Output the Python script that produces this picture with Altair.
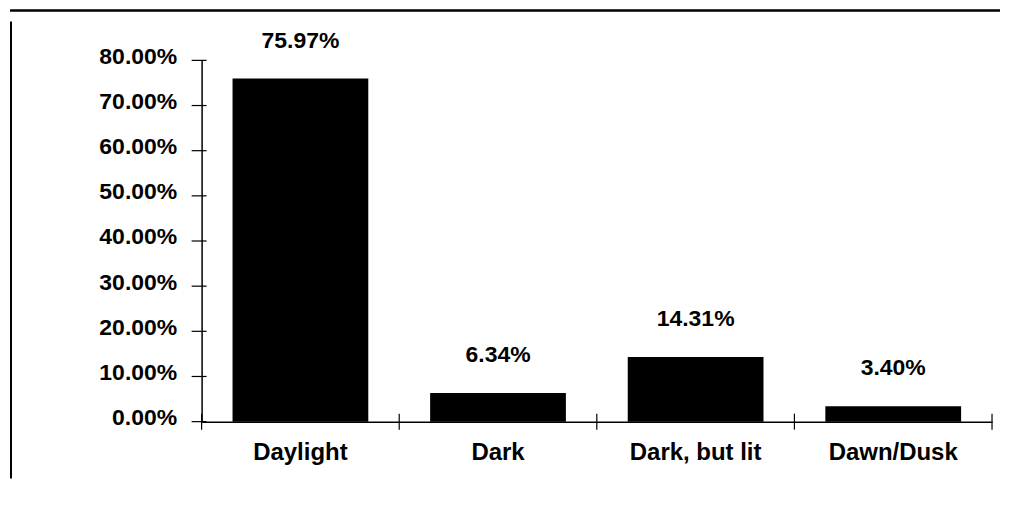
import altair as alt
import pandas as pd

categories = ["Daylight", "Dark", "Dark, but lit", "Dawn/Dusk"]
shares = [0.7597, 0.0634, 0.1431, 0.0340]
share_labels = ["75.97%", "6.34%", "14.31%", "3.40%"]
y_ticks = [0.0, 0.1, 0.2, 0.3, 0.4, 0.5, 0.6, 0.7, 0.8]

W, H = 792, 362
PI = 0.313
PO = PI / 2
STEP = W / len(categories)
GAP = PI * STEP / 2

df = pd.DataFrame({"cat": categories, "share": shares, "label": share_labels})
ticks_df = pd.DataFrame({"t": y_ticks})
one = pd.DataFrame({"a": [0]})

xscale = alt.Scale(domain=categories, paddingInner=PI, paddingOuter=PO)
yscale = alt.Scale(domain=[0, 0.8], nice=False, zero=True)

NUM_FONT = "Liberation Sans"

xaxis = alt.Axis(labelAngle=0, ticks=False, tickSize=0, labelPadding=19,
                 labelFont="Liberation Sans", labelFontSize=24,
                 labelFontWeight="bold", labelColor="black",
                 domainColor="black", domainWidth=1.5, grid=False)
yaxis = alt.Axis(values=y_ticks, format=".2%", ticks=False, tickSize=0,
                 labelPadding=25, labelFont=NUM_FONT, labelFontSize=23,
                 labelFontWeight="bold",
                 labelColor="black", domainColor="black", domainWidth=1.5,
                 grid=False, labelOffset=-4)

bars = alt.Chart(df).mark_bar(color="black").encode(
    x=alt.X("cat:N", scale=xscale, sort=categories, title=None, axis=xaxis),
    y=alt.Y("share:Q", scale=yscale, title=None, axis=yaxis),
)

values = alt.Chart(df).mark_text(dy=-31, baseline="alphabetic", font=NUM_FONT,
                                 fontSize=23, fontWeight="bold", color="black").encode(
    x=alt.X("cat:N", scale=xscale, sort=categories, title=None, axis=xaxis),
    y=alt.Y("share:Q", scale=yscale, title=None, axis=yaxis),
    text="label:N",
)

ytick_rules = alt.Chart(ticks_df).mark_rule(color="black", strokeWidth=1.2).encode(
    y=alt.Y("t:Q", scale=yscale, title=None, axis=yaxis),
    x=alt.value(-10),
    x2=alt.value(5),
)

xtick_rules = alt.Chart(df).mark_rule(color="black", strokeWidth=1.2, xOffset=-GAP).encode(
    x=alt.X("cat:N", scale=xscale, sort=categories, title=None, axis=xaxis, bandPosition=0),
    y=alt.value(H - 8),
    y2=alt.value(H + 8),
)

xtick_last = alt.Chart(df.tail(1)).mark_rule(color="black", strokeWidth=1.2, xOffset=GAP).encode(
    x=alt.X("cat:N", scale=xscale, sort=categories, title=None, axis=xaxis, bandPosition=1),
    y=alt.value(H - 8),
    y2=alt.value(H + 8),
)

frame_top = alt.Chart(one).mark_rule(color="black", strokeWidth=2.5).encode(
    x=alt.value(-192), x2=alt.value(800), y=alt.value(-50)
)
frame_left = alt.Chart(one).mark_rule(color="black", strokeWidth=2).encode(
    x=alt.value(-191), y=alt.value(-39), y2=alt.value(419)
)

chart = alt.layer(
    bars, values, ytick_rules, xtick_rules, xtick_last, frame_top, frame_left
).properties(width=W, height=H, padding=0).configure_view(stroke=None)

chart.save("out.html", embed_options={"renderer": "svg", "actions": False})
